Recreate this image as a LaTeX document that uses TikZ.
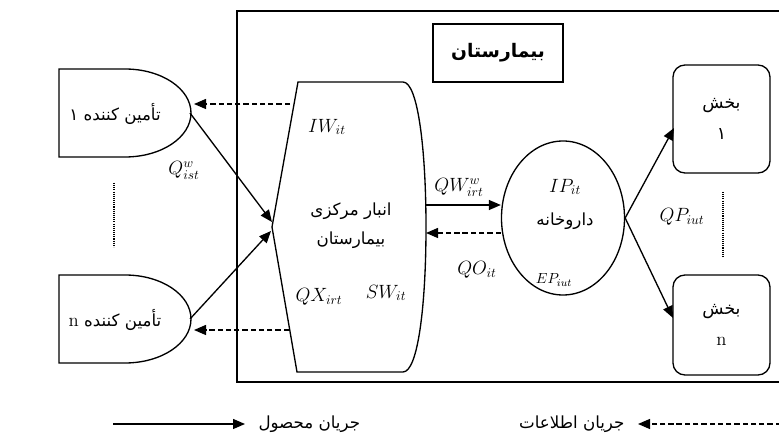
\documentclass[tikz,border=0pt]{standalone}
\usepackage{fontspec}
\usepackage{amsmath}
\usetikzlibrary{arrows.meta,positioning,shapes.geometric}
\TeXXeTstate=1
\newfontfamily\farsifont[Script=Arabic]{DejaVu Sans}
\newcommand{\fa}[1]{{\farsifont\beginR #1\endR}}

\tikzset{every picture/.style={line width=0.75pt}}
\tikzset{
  flow/.style={-{Triangle[length=9pt,width=7.5pt]},line width=1pt},
  info/.style={flow,dash pattern=on 4pt off 2.2pt},
  vdots/.style={line width=1pt,dash pattern=on 0.8pt off 0.8pt},
  lbl/.style={inner sep=0.75pt,font=\fontsize{14.5}{17}\selectfont},
  txt/.style={inner sep=0.75pt,align=center,font=\fontsize{12.5}{22}\selectfont},
  deptbox/.style={draw,line width=1pt,rounded corners=9pt,minimum width=72.75pt,align=center,font=\fontsize{13}{23}\selectfont},
}

\begin{document}
\begin{tikzpicture}[x=0.75pt,y=0.75pt,yscale=-1,xscale=1]
	\useasboundingbox (0,0) rectangle (779,434);
	
	%Shape: Rectangle (hospital)
	\draw [line width=2pt] (781,11) -- (237,11) -- (237,382) -- (781,382) ;
	%Shape: Rectangle (title)
	\node [draw,line width=1pt,minimum width=97.5pt,minimum height=43.5pt,font=\fontsize{14}{16}\selectfont] (title) at (498,53) {\fa{\bfseries بیمارستان}};
	
	%Shape: Suppliers
	\draw [line width=1pt] (125,69) .. controls (161.5,69) and (191,88.7) .. (191,113) .. controls (191,137.3) and (161.5,157) .. (125,157) -- (59,157) -- (59,69) -- cycle ;
	\draw [line width=1pt] (125,275) .. controls (161.5,275) and (191,294.7) .. (191,319) .. controls (191,343.3) and (161.5,363) .. (125,363) -- (59,363) -- (59,275) -- cycle ;
	\node [txt] (sup1) at (115,114) {\fa{تأمین کننده ۱}};
	\node [txt] (supn) at (115,320) {\fa{تأمین کننده {\rmfamily\fontsize{14}{16}\selectfont n}}};
	\coordinate (sup1out) at (190,113);
	\coordinate (supnout) at (190,319);
	\coordinate (sup1in) at (194,104);
	\coordinate (supnin) at (194,330);
	\draw [vdots] (114,183) -- (114,247) ;
	
	%Shape: Central warehouse
	\draw [line width=1pt] (298,82) -- (403,82) .. controls (418,82) and (426,150) .. (426,227) .. controls (426,305) and (418,372) .. (403,372) -- (297,372) -- (272,227) -- cycle ;
	\node [txt] (store) at (351,226) {\fa{انبار مرکزی}\\\fa{بیمارستان}};
	\coordinate (wtip1) at (272,222);
	\coordinate (wtip2) at (271,231);
	\coordinate (wout1) at (290,104);
	\coordinate (wout2) at (289,330);
	\coordinate (wright1) at (426,205);
	\coordinate (wright2) at (426,233);
	
	%Shape: Pharmacy
	\node [ellipse,draw,line width=1pt,minimum width=92.25pt,minimum height=115.5pt] (pharm) at (563,218) {};
	\node [txt] (pharmtxt) at (565,221) {\fa{داروخانه}};
	
	%Shape: Departments
	\node [deptbox,minimum height=81pt] (dept1) at (721.5,119) {\fa{بخش}\\\fa{۱}};
	\node [deptbox,minimum height=75pt] (deptn) at (721.5,325) {\fa{بخش}\\{\fontsize{14}{16}\selectfont n}};
	\coordinate (d1in) at (674,128);
	\coordinate (dnin) at (673,318);
	\draw [vdots] (723,192) -- (723,257) ;
	
	%Straight Lines
	\draw [flow] (sup1out) -- (wtip1) ;
	\draw [flow] (supnout) -- (wtip2) ;
	\draw [info] (wout1) -- (sup1in) ;
	\draw [info] (wout2) -- (supnin) ;
	\draw [flow] (wright1) -- (wright1 -| pharm.west) ;
	\draw [info] (pharm.west |- wright2) -- (wright2) ;
	\draw [flow] (pharm.east) -- (d1in) ;
	\draw [flow] (pharm.east) -- (dnin) ;
	
	%Legend
	\coordinate (lgflowA) at (113,424);
	\coordinate (lgflowB) at (245,424);
	\coordinate (lginfoA) at (781,424);
	\coordinate (lginfoB) at (638,424);
	\draw [flow] (lgflowA) -- (lgflowB) ;
	\draw [info] (lginfoA) -- (lginfoB) ;
	\node [txt,right=9pt of lgflowB] (lgflow) {\fa{جریان محصول}};
	\node [txt,left=9pt of lginfoB] (lginfo) {\fa{جریان اطلاعات}};
	
	\draw (184,170) node [lbl]    {$Q^{w}_{ist}$};
	\draw (327,127) node [lbl]    {$IW_{it}$};
	\draw (319,297) node [lbl]    {$QX_{irt}$};
	\draw (386,293) node [lbl]    {$SW_{it}$};
	\draw (459,187) node [lbl]    {$QW^{w}_{irt}$};
	\draw (477,270) node [lbl]    {$QO_{it}$};
	\draw (565,187) node [lbl]    {$IP_{it}$};
	\draw (554,280) node [lbl,font=\fontsize{11}{12}\selectfont]    {$EP_{iut}$};
	\draw (682,217) node [lbl]    {$QP_{iut}$};
	
\end{tikzpicture}
\end{document}
